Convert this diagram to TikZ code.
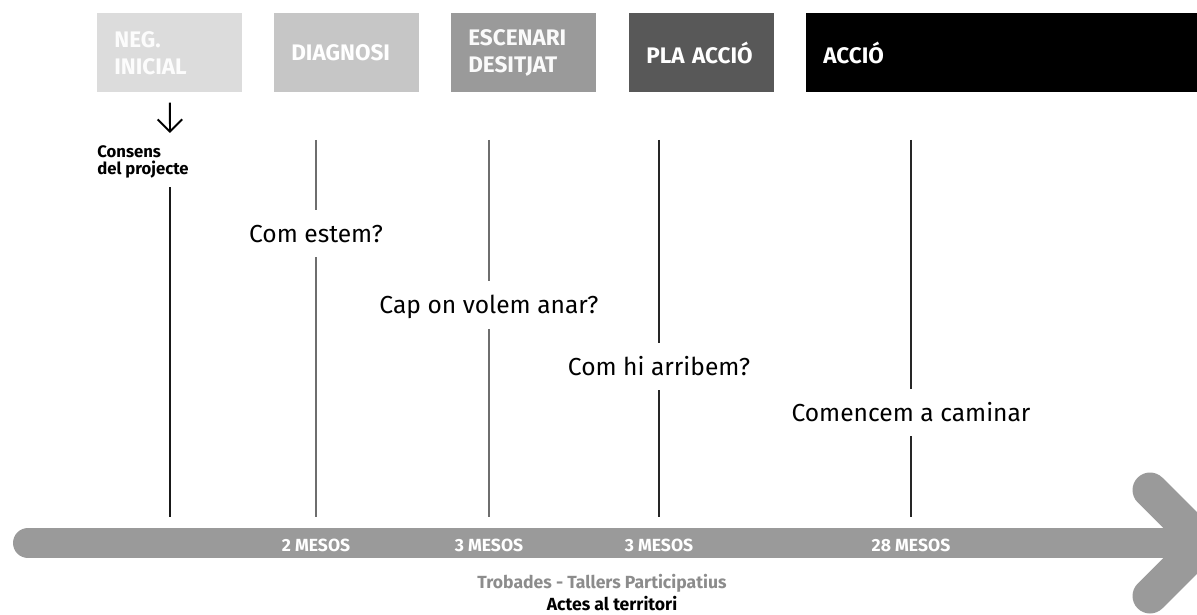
\documentclass[tikz,border=0pt]{standalone}
\usepackage{fontspec}
\setmainfont{Fira Sans}
\usetikzlibrary{calc,arrows.meta}
\definecolor{gris1}{HTML}{DCDCDC}
\definecolor{gris2}{HTML}{C6C6C6}
\definecolor{gris3}{HTML}{9A9A9A}
\definecolor{gris4}{HTML}{585858}
\definecolor{gris5}{HTML}{6E6E6E}
\definecolor{gris6}{HTML}{8C8C8C}
\tikzset{
  fase/.style={anchor=north west,minimum height=1.58cm,inner xsep=0.34cm,inner ysep=0pt,text width=2.22cm,align=left,text=white,font=\bfseries\fontsize{12.8}{15.4}\selectfont},
  pregunta/.style={font=\fontsize{14}{16}\selectfont,text height=9.7pt,text depth=0pt,inner xsep=2pt,inner ysep=8.5pt},
  mesos/.style={text=white,font=\bfseries\fontsize{10}{12}\selectfont},
  linia/.style={line width=0.9pt},
  fletxa/.style={-{Straight Barb[length=7pt,width=14pt]},line width=1.1pt}
}
\begin{document}
\begin{tikzpicture}[x=0.02cm,y=-0.02cm]
              \useasboundingbox (0,0) rectangle (1197,615);
              \clip (0,0) rectangle (1197,615);
              % fases
              \node[fase,fill=gris1,text=white!92!gris1](neg)at(97,13){NEG.\\INICIAL};
              \node[fase,fill=gris2](diag)at(274,13){DIAGNOSI};
              \node[fase,fill=gris3,text=white!95!gris3](esc)at(451,13){ESCENARI\\DESITJAT};
              \node[fase,fill=gris4](pla)at(629,13){PLA ACCIÓ};
              \node[fase,fill=black,text width=7.14cm](accio)at(806,13){ACCIÓ};
              % fletxa del temps
              \coordinate(ini)at(28,543);
              \coordinate(fi)at(1180,543);
              \draw[gris3,line width=0.6cm,line cap=round](ini)--(fi);
              \draw[gris3,line width=0.7cm,line cap=round](1150,490)--(1203,543)--(1150,596);
              % consens
              \coordinate(c0)at(170,133);
              \draw[fletxa,shorten <=0.2cm](neg.south)--(c0);
              \node[anchor=north west,align=left,inner sep=0pt,font=\bfseries\fontsize{9.5}{9.9}\selectfont](consens)at(97,145){Consens\\del projecte};
              \coordinate(l0a)at(170,187);
              \coordinate(l0b)at(170,517);
              \draw[linia,black!90](l0a)--(l0b);
              % preguntes
              \foreach \x/\y/\nom/\txt/\mes/\col in {316/233.5/q1/Com estem?/2 MESOS/gris5, 489/305/q2/Cap on volem anar?/3 MESOS/gris5, 659/366.5/q3/Com hi arribem?/3 MESOS/black!85, 911/412.5/q4/Comencem a caminar/28 MESOS/black!85}
              {
                \node[pregunta](\nom)at(\x,\y){\txt};
                \coordinate(\nom a)at(\x,140);
                \coordinate(\nom b)at(\x,517);
                \draw[linia,\col](\nom a)--(\nom.north);
                \draw[linia,\col](\nom.south)--(\nom b);
                \node[mesos](\nom m)at(\x,545){\mes};
              }
              \node[text=gris6,font=\bfseries\fontsize{10}{12}\selectfont](trobades)at(602,583){Trobades - Tallers Participatius};
              \node[font=\bfseries\fontsize{10}{12}\selectfont](actes)at(612,604){Actes al territori};
            \end{tikzpicture}
\end{document}
